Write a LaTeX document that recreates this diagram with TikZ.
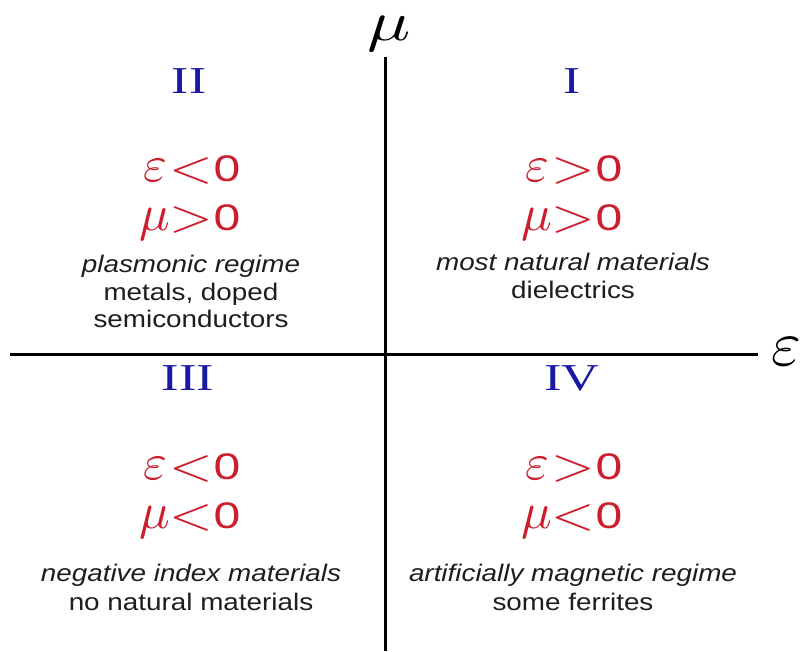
\documentclass[tikz,border=0pt]{standalone}
\usepackage{graphicx}
\usepackage{fontspec}
\setmainfont{Liberation Serif}
\setsansfont{Liberation Sans}
\definecolor{numblue}{RGB}{25,25,165}
\definecolor{condred}{RGB}{205,30,45}
\definecolor{txtgray}{RGB}{30,30,30}
\newcommand\wide[2]{\scalebox{#1}[1]{#2}}
\newcommand\greekpart[1]{{\fontsize{10}{12}\selectfont\scalebox{5.1}{$#1$}}}
\newcommand\condline[2]{%
  \makebox[36pt][c]{\greekpart{#1}}%
  \makebox[36pt][c]{\fontsize{10}{12}\selectfont\raisebox{-1pt}{\scalebox{5.6}[4.6]{$#2$}}}%
  \makebox[36pt][c]{\fontsize{37}{37}\sffamily\selectfont\wide{1.3}{0}}}
\tikzset{
  axisline/.style={line width=3pt, black},
  numeral/.style={text=numblue, font=\fontsize{38}{40}\selectfont, inner sep=0pt},
  cond/.style={text=condred, inner sep=0pt, anchor=base},
  desc/.style={text=txtgray, font=\sffamily\fontsize{24}{28}\selectfont, inner sep=0pt, anchor=base},
}
\begin{document}
\begin{tikzpicture}[x=1pt,y=-1pt]
\useasboundingbox (0,0) rectangle (803,651);
\fill[white] (0,0) rectangle (803,651);
% axes
\coordinate (vtop) at (385,57);
\coordinate (vbot) at (385,651);
\coordinate (hleft) at (10,354);
\coordinate (hright) at (758,354);
\draw[axisline] (vtop) -- (vbot);
\draw[axisline] (hleft) -- (hright);
\node[inner sep=0pt] (mulabel) at (389,34) {\fontsize{10}{12}\selectfont\scalebox{7.2}[5.6]{$\mu$}};
\node[inner sep=0pt] (epslabel) at (786,352) {\fontsize{10}{12}\selectfont\scalebox{6.4}{$\varepsilon$}};
% quadrant II
\node[numeral] (nII) at (189,81) {\wide{1.35}{II}};
\node[cond] (cIIa) at (191,181) {\condline{\varepsilon}{<}};
\node[cond] (cIIb) at (191,230) {\condline{\mu}{>}};
\node[desc] (dIIa) at (191,272) {\wide{1.16}{\itshape plasmonic regime}};
\node[desc] (dIIb) at (191,300) {\wide{1.16}{metals, doped}};
\node[desc] (dIIc) at (191,327) {\wide{1.16}{semiconductors}};
% quadrant I
\node[numeral] (nI) at (572,81) {\wide{1.35}{I}};
\node[cond] (cIa) at (573,181) {\condline{\varepsilon}{>}};
\node[cond] (cIb) at (573,230) {\condline{\mu}{>}};
\node[desc] (dIa) at (573,270) {\wide{1.16}{\itshape most natural materials}};
\node[desc] (dIb) at (573,298) {\wide{1.16}{dielectrics}};
% quadrant III
\node[numeral] (nIII) at (188,378) {\wide{1.38}{III}};
\node[cond] (cIIIa) at (191,479) {\condline{\varepsilon}{<}};
\node[cond] (cIIIb) at (191,528) {\condline{\mu}{<}};
\node[desc] (dIIIa) at (191,581) {\wide{1.16}{\itshape negative index materials}};
\node[desc] (dIIIb) at (191,610) {\wide{1.16}{no natural materials}};
% quadrant IV
\node[numeral] (nIV) at (572,378) {\wide{1.38}{IV}};
\node[cond] (cIVa) at (573,479) {\condline{\varepsilon}{>}};
\node[cond] (cIVb) at (573,528) {\condline{\mu}{<}};
\node[desc] (dIVa) at (573,581) {\wide{1.16}{\itshape artificially magnetic regime}};
\node[desc] (dIVb) at (573,610) {\wide{1.16}{some ferrites}};
\end{tikzpicture}
\end{document}
